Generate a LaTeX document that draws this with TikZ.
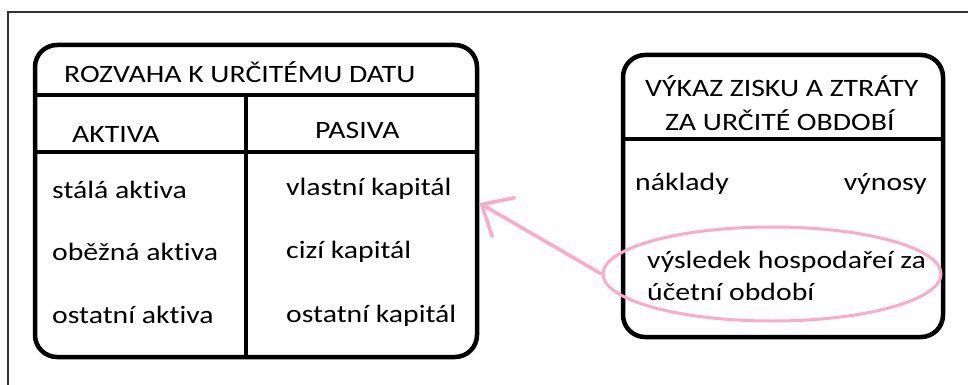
\documentclass[tikz,border=0pt]{standalone}
\usepackage{fontspec}
\setmainfont[FakeStretch=1.19, Ligatures=NoCommon]{Carlito}
\usepackage{tikz}
\usetikzlibrary{arrows.meta,shapes.geometric}

\definecolor{ruzova}{RGB}{252,170,200}
\definecolor{ramec}{RGB}{50,50,50}

\begin{document}
\begin{tikzpicture}[x=1pt, y=-1pt,
    txt/.style={anchor=base west, inner sep=0pt, font=\fontsize{25}{30}\selectfont},
    txtr/.style={txt, anchor=base east},
    box/.style={draw, line width=4.5pt, rounded corners=22pt, inner sep=0pt},
    hrana/.style={line width=4.5pt},
    znacka/.style={draw=ruzova, line width=3pt}]
      \useasboundingbox (0,0) rectangle (968,385);
      \draw[ramec, line width=1.3pt] (8,385) -- (8,12) -- (968,12);

      % rozvaha
      \node[box, minimum width=442pt, minimum height=312pt] (rozvaha) at (256,201) {};
      \draw[hrana] (rozvaha.west |- 0,95) -- (rozvaha.east |- 0,95);
      \draw[hrana] (rozvaha.west |- 0,152) -- (rozvaha.east |- 0,152);
      \draw[hrana] (246,95) -- (rozvaha.south -| 246,0);
      \node[txt] (nadpis) at (64,83) {ROZVAHA K URČITÉMU DATU};
      \node[txt] (aktiva) at (72,142) {AKTIVA};
      \node[txt] (pasiva) at (315,138) {PASIVA};
      \node[txt] (stala) at (52,198) {stálá aktiva};
      \node[txt] (obezna) at (52,260) {oběžná aktiva};
      \node[txt] (ostatniA) at (52,323) {ostatní aktiva};
      \node[txt] (vlastni) at (286,195) {vlastní kapitál};
      \node[txt] (cizi) at (286,258) {cizí kapitál};
      \node[txt] (ostatniP) at (286,322) {ostatní kapitál};

      % vykaz
      \node[box, minimum width=320pt, minimum height=282pt] (vykaz) at (783,196) {};
      \draw[hrana] (vykaz.west |- 0,139) -- (vykaz.east |- 0,139);
      \node[txt] (vykaz1) at (645,97) {VÝKAZ ZISKU A ZTRÁTY};
      \node[txt] (vykaz2) at (665,131) {ZA URČITÉ OBDOBÍ};
      \node[txt] (naklady) at (635,190) {náklady};
      \node[txtr] (vynosy) at (927,190) {výnosy};
      \node[txt] (vysledek1) at (647,268) {výsledek hospodařeí za};
      \node[txt] (vysledek2) at (647,300) {účetní období};

      % pink mark
      \node[ellipse, znacka, minimum width=338pt, minimum height=94pt, inner sep=0pt] (kruh) at (772,274) {};
      \coordinate (hrot) at (rozvaha.east |- 0,203);
      \draw[ruzova, line width=3.5pt, -{Straight Barb[length=26pt, width=46pt]}] (kruh.west) -- (hrot);
\end{tikzpicture}
\end{document}
